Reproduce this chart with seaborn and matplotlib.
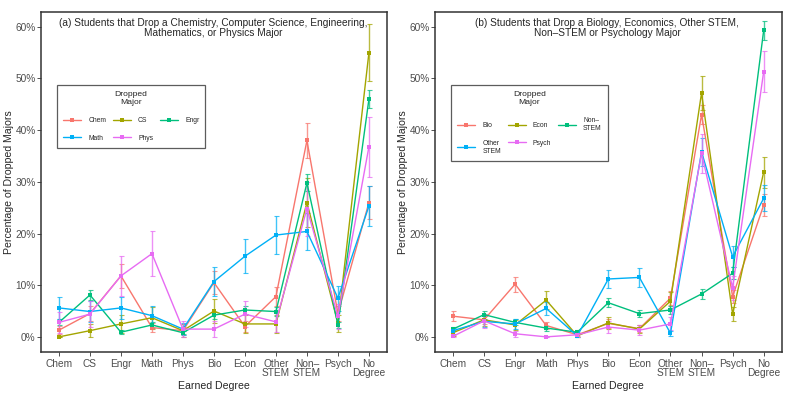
import pandas as pd
import matplotlib
matplotlib.use("Agg")
import matplotlib.pyplot as plt
import seaborn as sns

# Earned degree categories (x axis)
degrees = ["Chem", "CS", "Engr", "Math", "Phys", "Bio", "Econ",
           "Other\nSTEM", "Non\u2013\nSTEM", "Psych", "No\nDegree"]

# Panel (a): percentage of dropped majors by earned degree
majors_a = ["Chem", "CS", "Engr", "Math", "Phys"]
chem_a = [1.3, 4.5, 11.8, 1.8, 1.2, 10.5, 2.0, 7.8, 38.0, 4.5, 26.0]
cs_a = [0.0, 1.2, 2.5, 3.7, 1.2, 5.0, 2.5, 2.5, 26.0, 2.6, 55.0]
engr_a = [2.8, 8.1, 0.9, 2.3, 0.8, 4.2, 5.2, 4.9, 29.8, 2.3, 46.0]
math_a = [5.6, 4.9, 5.6, 4.1, 1.5, 10.7, 15.6, 19.7, 20.4, 7.5, 25.3]
phys_a = [2.8, 4.4, 11.8, 16.1, 1.5, 1.5, 4.4, 2.9, 24.8, 4.0, 36.8]

chem_a_err = [0.8, 1.5, 2.3, 0.9, 0.8, 2.2, 1.0, 1.9, 3.4, 1.5, 3.1]
cs_a_err = [0.0, 1.2, 1.7, 2.1, 1.2, 2.4, 1.7, 1.7, 4.8, 1.7, 5.5]
engr_a_err = [0.6, 1.0, 0.35, 0.55, 0.3, 0.7, 0.8, 0.8, 1.65, 0.55, 1.8]
math_a_err = [2.1, 2.0, 2.1, 1.8, 1.1, 2.8, 3.3, 3.6, 3.65, 2.4, 3.9]
phys_a_err = [2.0, 2.5, 3.9, 4.4, 1.5, 1.5, 2.5, 2.0, 5.2, 2.4, 5.8]

# Panel (b)
majors_b = ["Bio", "Econ", "Non\u2013\nSTEM", "Other\nSTEM", "Psych"]
bio_b = [4.0, 3.3, 10.2, 2.2, 0.4, 2.6, 1.6, 7.5, 43.0, 7.8, 25.5]
econ_b = [0.8, 3.3, 2.3, 7.1, 0.2, 2.7, 1.5, 6.9, 47.2, 4.4, 31.9]
nonstem_b = [1.5, 4.3, 2.8, 1.7, 0.9, 6.6, 4.5, 5.2, 8.3, 12.3, 59.3]
otherstem_b = [1.2, 3.0, 2.5, 5.5, 0.2, 11.2, 11.5, 0.7, 35.8, 15.5, 26.8]
psych_b = [0.1, 3.1, 0.6, 0.0, 0.4, 1.9, 1.3, 2.5, 35.5, 9.5, 51.3]

bio_b_err = [1.0, 0.9, 1.45, 0.7, 0.3, 0.8, 0.6, 1.3, 1.8, 1.3, 2.1]
econ_b_err = [0.6, 1.2, 1.0, 1.7, 0.3, 1.1, 0.8, 1.7, 3.3, 1.35, 3.0]
nonstem_b_err = [0.45, 0.75, 0.6, 0.47, 0.35, 0.9, 0.75, 0.8, 1.0, 1.2, 1.8]
otherstem_b_err = [0.6, 1.0, 0.9, 1.3, 0.3, 1.8, 1.8, 0.5, 2.7, 2.0, 2.5]
psych_b_err = [0.2, 1.4, 0.6, 0.0, 0.5, 1.1, 0.9, 1.25, 3.8, 2.35, 4.0]

titles = [
    "(a) Students that Drop a Chemistry, Computer Science, Engineering,\nMathematics, or Physics Major",
    "(b) Students that Drop a Biology, Economics, Other STEM,\nNon\u2013STEM or Psychology Major",
]

colors = ["#F8766D", "#A3A500", "#00BF7D", "#00B0F6", "#E76BF3"]


def long_frame(majors, values, errors):
    rows = []
    for m, vals, errs in zip(majors, values, errors):
        for i, (v, e) in enumerate(zip(vals, errs)):
            rows.append({"major": m, "pos": i, "pct": v, "err": e})
    return pd.DataFrame(rows)


df_a = long_frame(majors_a, [chem_a, cs_a, engr_a, math_a, phys_a],
                  [chem_a_err, cs_a_err, engr_a_err, math_a_err, phys_a_err])
df_b = long_frame(majors_b, [bio_b, econ_b, nonstem_b, otherstem_b, psych_b],
                  [bio_b_err, econ_b_err, nonstem_b_err, otherstem_b_err, psych_b_err])

sns.set_theme(style="white")
plt.rcParams["font.family"] = ["Liberation Sans", "DejaVu Sans"]

fig = plt.figure(figsize=(7.88, 3.94), dpi=100)
ax_a = fig.add_axes([0.052, 0.107, 0.439, 0.863])
ax_b = fig.add_axes([0.552, 0.107, 0.440, 0.863])

for ax, df, majors, title in [(ax_a, df_a, majors_a, titles[0]),
                              (ax_b, df_b, majors_b, titles[1])]:
    pal = dict(zip(majors, colors))
    for m in majors:
        sub = df[df["major"] == m]
        ax.errorbar(sub["pos"], sub["pct"], yerr=sub["err"], fmt="none",
                    ecolor=pal[m], elinewidth=1.0, capsize=1.8, capthick=0.8,
                    alpha=0.75, zorder=2)
    sns.lineplot(data=df, x="pos", y="pct", hue="major", hue_order=majors,
                 palette=pal, marker="s", markersize=3.4, markeredgewidth=0,
                 linewidth=1.0, ax=ax, zorder=3)

    ax.set_xlim(-0.58, 10.58)
    ax.set_ylim(-2.9, 62.9)
    ax.set_xticks(range(len(degrees)))
    ax.set_xticklabels(degrees, fontsize=7.3, color="#4D4D4D", linespacing=0.95)
    ax.set_yticks([0, 10, 20, 30, 40, 50, 60])
    ax.set_yticklabels([f"{v}%" for v in range(0, 70, 10)], fontsize=7.3,
                       color="#4D4D4D")
    ax.tick_params(axis="both", direction="out", length=3, width=0.6,
                   color="#333333", pad=2, bottom=True, left=True)
    ax.tick_params(axis="y", pad=0.8)
    ax.set_xlabel("Earned Degree", fontsize=7.6, labelpad=2)
    ax.set_ylabel("Percentage of Dropped Majors", fontsize=7.6, labelpad=1)
    for sp in ax.spines.values():
        sp.set_color("#333333")
        sp.set_linewidth(1.1)
    ax.text(0.497, 0.982, title, transform=ax.transAxes, ha="center",
            va="top", fontsize=7.3, linespacing=1.0)

    handles, labels = ax.get_legend_handles_labels()
    order = [0, 3, 1, 4, 2]
    leg = ax.legend([handles[i] for i in order], [labels[i] for i in order],
                    title="Dropped\nMajor", ncol=3, loc="upper left",
                    bbox_to_anchor=(0.036, 0.795), fontsize=4.9,
                    title_fontsize=6.1, frameon=True, fancybox=False,
                    handlelength=2.7, columnspacing=1.0, labelspacing=1.6,
                    borderpad=0.9, handletextpad=1.0)
    leg.get_frame().set_edgecolor("#333333")
    leg.get_frame().set_linewidth(0.9)
    leg.get_title().set_multialignment("center")

fig.savefig("out.png", dpi=100)
